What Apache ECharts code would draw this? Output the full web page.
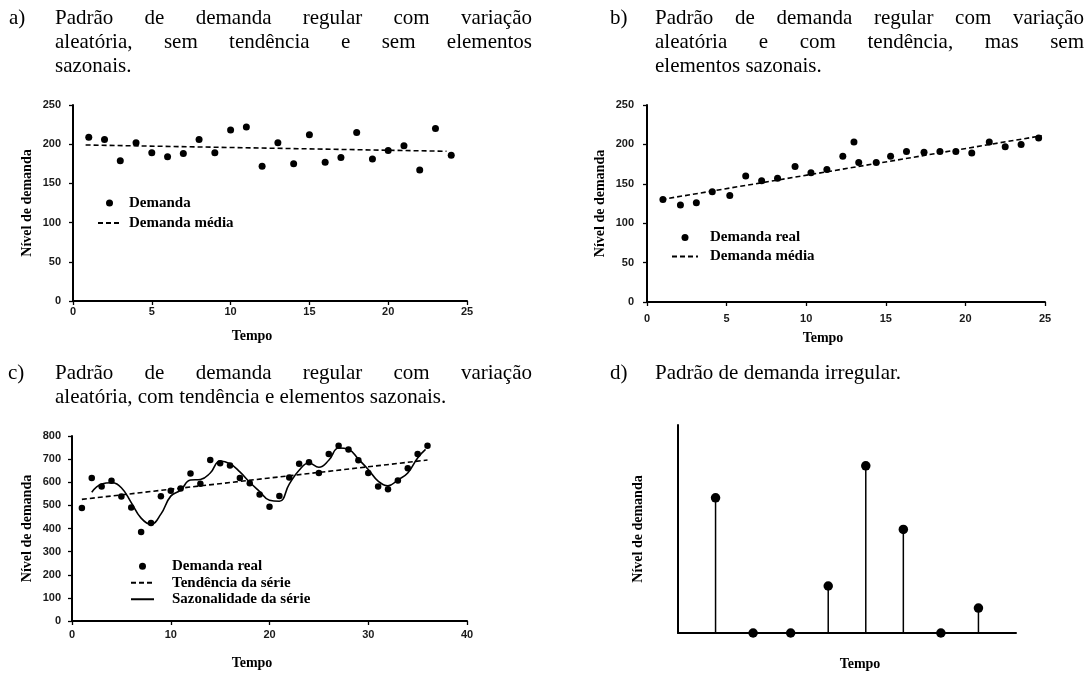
<!DOCTYPE html>
<html><head><meta charset="utf-8">
<script src="https://cdn.jsdelivr.net/npm/echarts@6/dist/echarts.min.js"></script>
<style>html,body{margin:0;padding:0;background:#fff}#c{width:1090px;height:673px}</style>
</head><body><div id="c"></div>
<script>
// ---------- DATA ----------
// Panel a: regular demand, random variation, no trend
const aTime = [1,2,3,4,5,6,7,8,9,10,11,12,13,14,15,16,17,18,19,20,21,22,23,24];
const aDemand = [209,206,179,202,189,184,188,206,189,218,222,172,202,175,212,177,183,215,181,192,198,167,220,186];
const aTrendTime = [0.8, 23.7];
const aTrend = [199, 191];

// Panel b: with trend
const bTime = [1.0,2.1,3.1,4.1,5.2,6.2,7.2,8.2,9.3,10.3,11.3,12.3,13.0,13.3,14.4,15.3,16.3,17.4,18.4,19.4,20.4,21.5,22.5,23.5,24.6];
const bDemand = [130,123,126,140,135,160,154,157,172,164,168,185,203,177,177,185,191,190,191,191,189,203,197,200,208];
const bTrendTime = [0.9, 24.8];
const bTrend = [130, 211];

// Panel c: trend + seasonality
const cTime = [1,2,3,4,5,6,7,8,9,10,11,12,13,14,15,16,17,18,19,20,21,22,23,24,25,26,27,28,29,30,31,32,33,34,35,36];
const cDemand = [489,618,582,606,538,491,385,424,540,563,573,638,593,696,682,672,618,596,547,494,541,621,680,686,640,722,758,742,695,640,582,570,608,661,722,758];
const cTrendTime = [1, 36];
const cTrend = [526, 696];
const cSeasonTime = [2,3,4,5,6,7,8,9,10,11,12,13,14,15,16,17,18,19,20,21,22,23,24,25,26,27,28,29,30,31,32,33,34,35,35.8];
const cSeason = [557,592,598,576,512,445,418,462,540,566,610,612,640,692,680,645,600,560,522,518,592,652,683,665,695,748,742,700,655,605,585,610,640,705,742];

// Panel d: irregular demand
const dTime = [1,2,3,4,5,6,7,8];
const dDemand = [65,0,0,22.6,80.4,49.8,0,12];

// Tick settings
const aXTicks = {min:0, max:25, interval:5};
const aYTicks = {min:0, max:250, interval:50};
const cXTicks = {min:0, max:40, interval:10};
const cYTicks = {min:0, max:800, interval:100};

// Text
const titles = {
  a: [['a)'], ['Padrão','de','demanda','regular','com','variação'], ['aleatória,','sem','tendência','e','sem','elementos'], ['sazonais.']],
  b: [['b)'], ['Padrão','de','demanda','regular','com','variação'], ['aleatória','e','com','tendência,','mas','sem'], ['elementos','sazonais.']],
  c: [['c)'], ['Padrão','de','demanda','regular','com','variação'], ['aleatória,','com','tendência','e','elementos','sazonais.']],
  d: [['d)'], ['Padrão','de','demanda','irregular.']]
};
const yName = 'Nível de demanda';
const xName = 'Tempo';

// ---------- BUILD ----------
const pairs = (xs, ys) => xs.map((x, i) => [x, ys[i]]);
const SERIF = '"Liberation Serif", "Times New Roman", serif';
const SANS = '"Liberation Sans", Arial, sans-serif';

const cv = document.createElement('canvas').getContext('2d');
function textLine(words, x0, x1, y, size) {
  const font = size + 'px ' + SERIF;
  cv.font = font;
  const ws = words.map(w => cv.measureText(w).width);
  const sp = cv.measureText(' ').width;
  const sum = ws.reduce((a, b) => a + b, 0);
  let gap = sp, sx = 1;
  if (x1 != null) {
    if (words.length > 1) {
      gap = (x1 - x0 - sum) / (words.length - 1);
      if (gap < sp) { sx = (x1 - x0) / (sum + sp * (words.length - 1)); gap = sp * sx; }
    } else sx = (x1 - x0) / sum;
  }
  const out = []; let x = x0;
  words.forEach((w, i) => {
    out.push({type: 'text', x: x, y: y, scaleX: sx, style: {text: w, font: font, fill: '#000', verticalAlign: 'middle', align: 'left'}});
    x += ws[i] * sx + gap;
  });
  return out;
}
const TS = 21;
let graphics = [];
graphics = graphics.concat(
  textLine(titles.a[0], 9, null, 18, TS),
  textLine(titles.a[1], 55, 532, 18, TS),
  textLine(titles.a[2], 55, 532, 42, TS),
  textLine(titles.a[3], 55, null, 66, TS),
  textLine(titles.b[0], 610, null, 18, TS),
  textLine(titles.b[1], 655, 1084, 18, TS),
  textLine(titles.b[2], 655, 1084, 42, TS),
  textLine(titles.b[3], 655, null, 66, TS),
  textLine(titles.c[0], 8, null, 373, TS),
  textLine(titles.c[1], 55, 532, 373, TS),
  textLine(titles.c[2], 55, null, 397, TS),
  textLine(titles.d[0], 610, null, 373, TS),
  textLine(titles.d[1], 655, null, 373, TS)
);

const axisLine = {show: true, onZero: false, lineStyle: {color: '#000', width: 2}};
const axisTick = {show: true, length: 4, lineStyle: {color: '#000', width: 1.3}};
const lab = (m) => ({fontFamily: SANS, fontSize: 11, fontWeight: 'bold', color: '#1a1a1a', margin: m});
const nameStyle = (pad) => ({fontFamily: SERIF, fontWeight: 'bold', fontSize: 14, color: '#000', padding: pad || 0});

function vAxis(grid, t, extra) {
  return Object.assign({type: 'value', gridIndex: grid, min: t.min, max: t.max, interval: t.interval,
    axisLine: axisLine, axisTick: axisTick, splitLine: {show: false}}, extra);
}

const xAxes = [
  vAxis(0, aXTicks, {axisLabel: lab(5), name: xName, nameLocation: 'middle', nameGap: 28, nameTextStyle: nameStyle([0, 36, 0, 0])}),
  vAxis(1, aXTicks, {axisLabel: lab(11), name: xName, nameLocation: 'middle', nameGap: 29, nameTextStyle: nameStyle([0, 46, 0, 0])}),
  vAxis(2, cXTicks, {axisLabel: lab(8), name: xName, nameLocation: 'middle', nameGap: 35, nameTextStyle: nameStyle([0, 35, 0, 0])}),
  {type: 'value', gridIndex: 3, min: 0, max: 9, axisLine: axisLine, axisTick: {show: false}, axisLabel: {show: false}, splitLine: {show: false},
    name: xName, nameLocation: 'middle', nameGap: 24, nameTextStyle: nameStyle([0, 0, 0, 26])}
];
const yAxes = [
  vAxis(0, aYTicks, {axisLabel: lab(12), name: yName, nameLocation: 'middle', nameGap: 39, nameTextStyle: nameStyle()}),
  vAxis(1, aYTicks, {axisLabel: lab(13), name: yName, nameLocation: 'middle', nameGap: 40, nameTextStyle: nameStyle()}),
  vAxis(2, cYTicks, {axisLabel: lab(11), name: yName, nameLocation: 'middle', nameGap: 38, nameTextStyle: nameStyle()}),
  {type: 'value', gridIndex: 3, min: 0, max: 100, axisLine: axisLine, axisTick: {show: false}, axisLabel: {show: false}, splitLine: {show: false},
    name: yName, nameLocation: 'middle', nameGap: 33, nameTextStyle: nameStyle()}
];

const dot = (name, xi, data, size) => ({type: 'scatter', name: name, xAxisIndex: xi, yAxisIndex: xi, data: data,
  symbol: 'circle', symbolSize: size, itemStyle: {color: '#000', opacity: 1}, z: 4});
const line = (name, xi, data, dash, smooth) => ({type: 'line', name: name, xAxisIndex: xi, yAxisIndex: xi, data: data,
  symbol: 'none', showSymbol: false, smooth: smooth || false, color: '#000',
  lineStyle: {color: '#000', width: 1.6, type: dash ? [5, 3] : 'solid'}, itemStyle: {color: '#000'}, z: 3});

const series = [
  dot('Demanda', 0, pairs(aTime, aDemand), 7),
  line('Demanda média', 0, pairs(aTrendTime, aTrend), true),
  dot('Demanda real', 1, pairs(bTime, bDemand), 7),
  line('Demanda média', 1, pairs(bTrendTime, bTrend), true),
  dot('Demanda real', 2, pairs(cTime, cDemand), 6.5),
  line('Tendência da série', 2, pairs(cTrendTime, cTrend), true),
  line('Sazonalidade da série', 2, pairs(cSeasonTime, cSeason), false, 0.45),
  {type: 'bar', name: 'haste', xAxisIndex: 3, yAxisIndex: 3, data: pairs(dTime, dDemand), barWidth: 1.5,
    itemStyle: {color: '#000'}, z: 2},
  dot('Demanda irregular', 3, pairs(dTime, dDemand), 9.5)
];

const hideDot = {color: 'rgba(0,0,0,0)', borderWidth: 0, opacity: 0};
const legText = (lh, padL) => ({fontFamily: SERIF, fontWeight: 'bold', fontSize: 15, color: '#000', lineHeight: lh, padding: [0, 0, 0, padL]});
const legBase = {orient: 'vertical', itemHeight: 7, itemGap: 0, padding: 0, selectedMode: false, symbolKeepAspect: true};
const legends = [
  Object.assign({}, legBase, {data: ['Demanda', {name: 'Demanda média', itemStyle: hideDot}],
    left: 97, top: 193, itemWidth: 23, textStyle: legText(20, 3)}),
  Object.assign({}, legBase, {data: ['Demanda real', {name: 'Demanda média', itemStyle: hideDot}],
    left: 671, top: 228, itemWidth: 26, textStyle: legText(19, 7)}),
  Object.assign({}, legBase, {data: ['Demanda real', {name: 'Tendência da série', itemStyle: hideDot}, {name: 'Sazonalidade da série', itemStyle: hideDot}],
    left: 130, top: 558, itemWidth: 23, textStyle: legText(16.5, 13)})
];

const chart = echarts.init(document.getElementById('c'));
chart.setOption({
  backgroundColor: '#fff',
  animation: false,
  grid: [
    {left: 73, top: 105, width: 394, height: 196},
    {left: 647, top: 105, width: 398, height: 197},
    {left: 72, top: 436, width: 395, height: 185},
    {left: 678, top: 425, width: 338, height: 208}
  ],
  xAxis: xAxes,
  yAxis: yAxes,
  legend: legends,
  series: series,
  graphic: graphics
});
</script>
</body></html>
